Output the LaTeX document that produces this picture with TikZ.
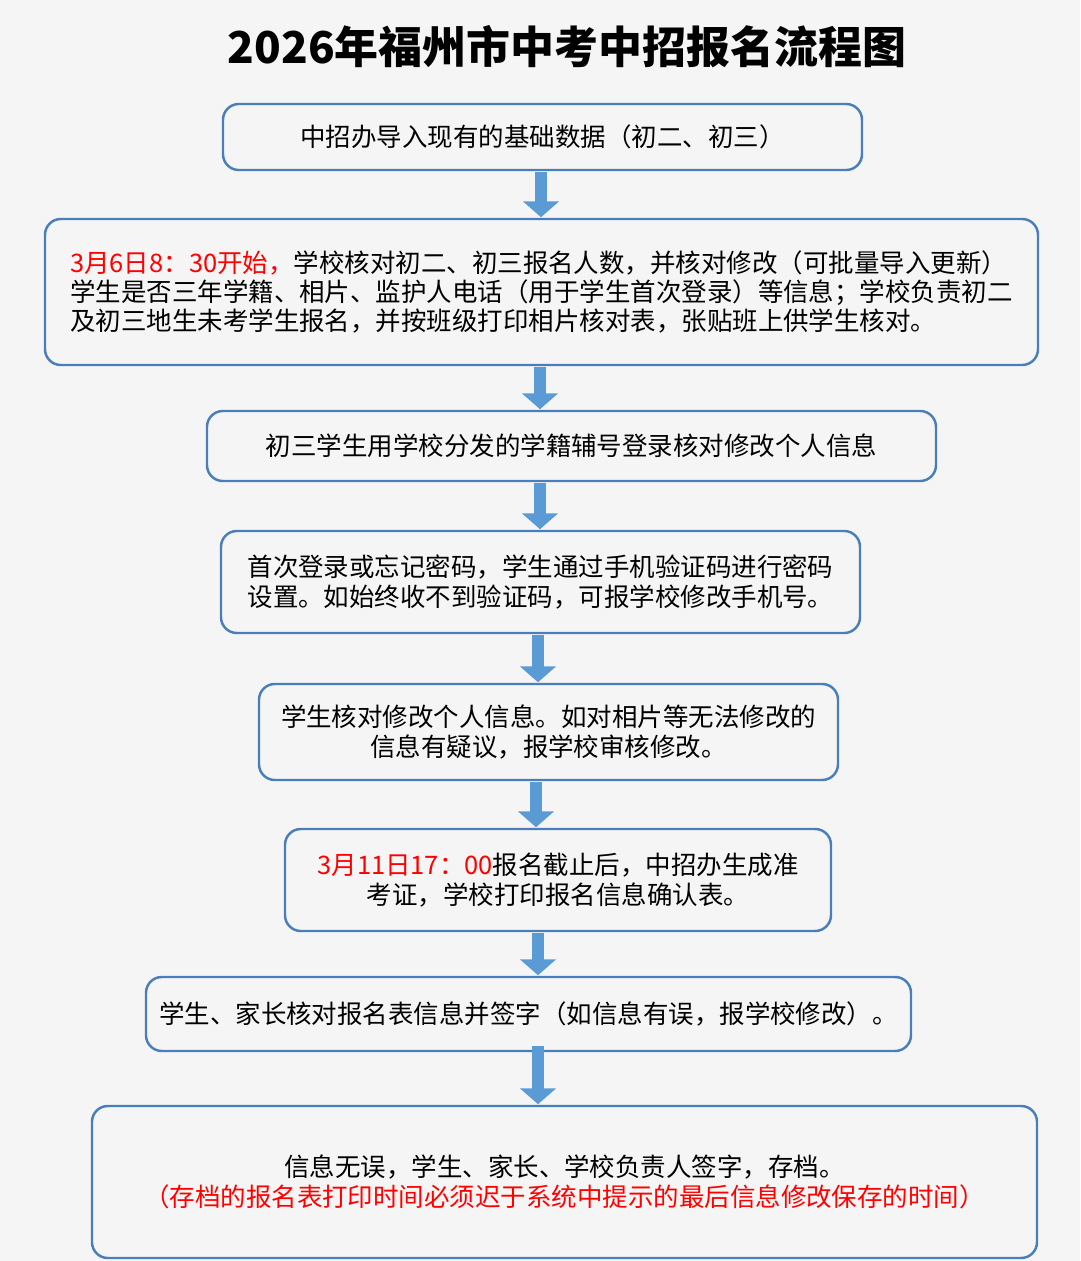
\documentclass[tikz,border=0pt]{standalone}
\usepackage{fontspec}
\setmainfont{Noto Sans CJK SC}
\usetikzlibrary{arrows.meta,positioning}
\definecolor{boxline}{HTML}{4A7EBB}
\definecolor{arrowfill}{HTML}{5B9BD5}
\definecolor{bg}{HTML}{F5F5F5}

\begin{document}
\begin{tikzpicture}[x=0.02cm,y=-0.02cm,
    every step/.style={draw=boxline,line width=1.4pt,rounded corners=9pt,fill=bg,align=center,
        font=\fontsize{14.5}{16.7}\selectfont,inner sep=0pt},
    flow/.style={draw=arrowfill,line width=7pt,-{Triangle[width=20pt,length=9pt]},shorten <=1pt,shorten >=1pt}]
		 \fill[bg] (0,0) rectangle (1080,1261);
		 \node[font=\fontsize{25}{28}\selectfont\bfseries] (title) at (567,47) {2026年福州市中考中招报名流程图};
		 \node[every step,minimum width=639*0.02cm,minimum height=66*0.02cm]  (s1) at (542.5,137) {中招办导入现有的基础数据（初二、初三）};
		 \node[every step,align=left,minimum width=993*0.02cm,minimum height=146*0.02cm]  (s2) at (541.5,292) {\textcolor{red}{3月6日8：30开始，}学校核对初二、初三报名人数，并核对修改（可批量导入更新）\\学生是否三年学籍、相片、监护人电话（用于学生首次登录）等信息；学校负责初二\\及初三地生未考学生报名，并按班级打印相片核对表，张贴班上供学生核对。};
		 \node[every step,minimum width=729*0.02cm,minimum height=70*0.02cm]  (s3) at (571.5,446) {初三学生用学校分发的学籍辅号登录核对修改个人信息};
		 \node[every step,align=left,minimum width=639*0.02cm,minimum height=102*0.02cm]  (s4) at (540.5,582) {首次登录或忘记密码，学生通过手机验证码进行密码\\设置。如始终收不到验证码，可报学校修改手机号。};
		 \node[every step,minimum width=579*0.02cm,minimum height=96*0.02cm]  (s5) at (548.5,732) {学生核对修改个人信息。如对相片等无法修改的\\信息有疑议，报学校审核修改。};
		 \node[every step,minimum width=546*0.02cm,minimum height=102*0.02cm]  (s6) at (558,880) {\textcolor{red}{3月11日17：00}报名截止后，中招办生成准\\考证，学校打印报名信息确认表。};
		 \node[every step,minimum width=765*0.02cm,minimum height=74*0.02cm]  (s7) at (528.5,1014) {学生、家长核对报名表信息并签字（如信息有误，报学校修改）。};
		 \node[every step,minimum width=945*0.02cm,minimum height=152*0.02cm]  (s8) at (564.5,1182) {信息无误，学生、家长、学校负责人签字，存档。\\\textcolor{red}{（存档的报名表打印时间必须迟于系统中提示的最后信息修改保存的时间）}};

		 \coordinate (a1) at (541,170);  \coordinate (b1) at (541,219);
		 \coordinate (a2) at (540,365);  \coordinate (b2) at (540,411);
		 \coordinate (a3) at (540,481);  \coordinate (b3) at (540,531);
		 \coordinate (a4) at (538,633);  \coordinate (b4) at (538,684);
		 \coordinate (a5) at (536,780);  \coordinate (b5) at (536,829);
		 \coordinate (a6) at (538,931);  \coordinate (b6) at (538,977);
		 \coordinate (a7) at (538,1044); \coordinate (b7) at (538,1106);
		 \foreach \i in {1,...,7}
		   \draw[flow] (a\i) -- (b\i);
	\end{tikzpicture}
\end{document}
